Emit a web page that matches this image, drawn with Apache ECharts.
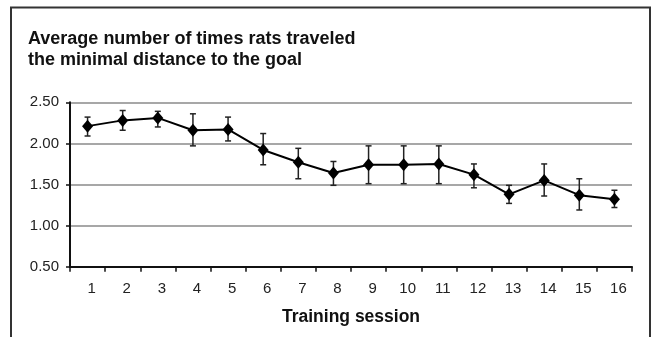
<!DOCTYPE html>
<html>
<head>
<meta charset="utf-8">
<script src="https://cdn.jsdelivr.net/npm/echarts@6/dist/echarts.min.js"></script>
<style>
html,body{margin:0;padding:0;background:#fff;}
#chart{width:652px;height:337px;}
</style>
</head>
<body>
<div id="chart"></div>
<script>
var sessions = ['1','2','3','4','5','6','7','8','9','10','11','12','13','14','15','16'];
var means = [2.21,2.28,2.31,2.16,2.17,1.92,1.77,1.64,1.74,1.74,1.75,1.62,1.38,1.55,1.37,1.32];
var upper = [2.32,2.40,2.39,2.36,2.32,2.12,1.94,1.78,1.97,1.97,1.97,1.75,1.49,1.75,1.57,1.43];
var lower = [2.09,2.16,2.20,1.97,2.03,1.74,1.57,1.49,1.51,1.51,1.51,1.46,1.27,1.36,1.19,1.22];
var yTicks = [0.5, 2.5, 0.5];

var errData = sessions.map(function(s,i){ return [i, lower[i], upper[i]]; });

var chart = echarts.init(document.getElementById('chart'), null, {renderer:'canvas'});
var font = '"Liberation Sans", Arial, sans-serif';
chart.setOption({
  animation:false,
  backgroundColor:'#fff',
  title:{
    text:'Average number of times rats traveled\nthe minimal distance to the goal',
    left:28, top:28.5, padding:0,
    textStyle:{fontFamily:font, fontWeight:'bold', fontSize:18, lineHeight:21, color:'#111'}
  },
  graphic:[{
    type:'rect', shape:{x:11, y:7.5, width:639, height:345},
    style:{fill:'none', stroke:'#333', lineWidth:2}, silent:true, z:-1
  }],
  grid:{left:70, right:20, top:102.3, bottom:70.3},
  xAxis:{
    type:'category', data:sessions, boundaryGap:true,
    name:'Training session', nameLocation:'middle', nameGap:41,
    nameTextStyle:{fontFamily:font, fontWeight:'bold', fontSize:17.5, color:'#111'},
    axisLine:{lineStyle:{color:'#111', width:2}},
    axisTick:{show:true, alignWithLabel:false, length:5, lineStyle:{color:'#111', width:1.5}},
    axisLabel:{fontFamily:font, fontSize:15, color:'#222', margin:15, padding:[0,0,0,8]},
    splitLine:{show:false}
  },
  yAxis:{
    type:'value', min:yTicks[0], max:yTicks[1], interval:yTicks[2],
    axisLine:{show:true, lineStyle:{color:'#111', width:2}},
    axisTick:{show:true, length:4, lineStyle:{color:'#111', width:1.5}},
    axisLabel:{fontFamily:font, fontSize:15, color:'#222', margin:11,
      formatter:function(v){return v.toFixed(2);}},
    splitLine:{show:true, lineStyle:{color:'#8a8a8a', width:1.5}}
  },
  series:[
    {
      type:'custom',
      data:errData,
      z:3,
      renderItem:function(params, api){
        var x = api.value(0);
        var lo = api.coord([x, api.value(1)]);
        var hi = api.coord([x, api.value(2)]);
        var w = 3;
        var st = {stroke:'#222', lineWidth:1.5, fill:null};
        return {type:'group', children:[
          {type:'line', shape:{x1:lo[0], y1:lo[1], x2:hi[0], y2:hi[1]}, style:st},
          {type:'line', shape:{x1:lo[0]-w, y1:lo[1], x2:lo[0]+w, y2:lo[1]}, style:st},
          {type:'line', shape:{x1:hi[0]-w, y1:hi[1], x2:hi[0]+w, y2:hi[1]}, style:st}
        ]};
      },
      encode:{x:0, y:[1,2]}
    },
    {
      type:'line',
      data:means,
      z:5,
      symbol:'diamond',
      symbolSize:[11,13],
      lineStyle:{color:'#000', width:2},
      itemStyle:{color:'#000'}
    }
  ]
});
</script>
</body>
</html>
